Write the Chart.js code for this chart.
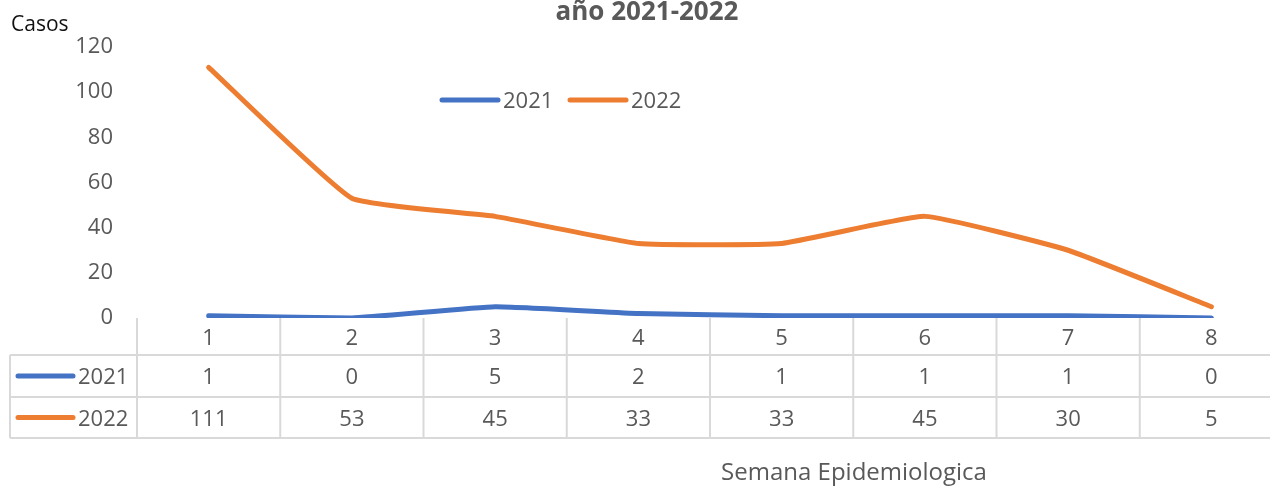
<!DOCTYPE html>
<html>
<head>
<meta charset="utf-8">
<script src="https://cdn.jsdelivr.net/npm/chart.js@4"></script>
<style>
  html, body { margin: 0; padding: 0; background: #fff; overflow: hidden; }
  #wrap { width: 1283px; height: 486px; }
</style>
</head>
<body>
<div id="wrap"><canvas id="chart" width="1283" height="486"></canvas></div>
<script>
// data
const weeks = ['1', '2', '3', '4', '5', '6', '7', '8'];
const cases2021 = [1, 0, 5, 2, 1, 1, 1, 0];
const cases2022 = [111, 53, 45, 33, 33, 45, 30, 5];
const yTicks = [0, 20, 40, 60, 80, 100, 120];

const BLUE = '#4472C4';
const ORANGE = '#ED7D31';
const GRAY = '#595959';
const LINE = '#d9d9d9';
const FONT = '"Open Sans", sans-serif';

// legend, data table and titles drawn on top of the chart
const extras = {
    id: 'extras',
    afterDraw(chart) {
        const ctx = chart.ctx;
        const x = chart.scales.x;
        const area = chart.chartArea;
        const colW = (area.right - area.left) / weeks.length;
        const rowTop = area.bottom;
        const rows = [rowTop, rowTop + 37, rowTop + 79, rowTop + 120];
        const tableLeft = 10;

        ctx.save();

        // table grid
        ctx.strokeStyle = LINE;
        ctx.lineWidth = 2;
        ctx.beginPath();
        for (let i = 0; i <= weeks.length; i++) {
            const gx = area.left + i * colW;
            ctx.moveTo(gx, rows[0]);
            ctx.lineTo(gx, rows[3]);
        }
        ctx.moveTo(tableLeft, rows[1]);
        ctx.lineTo(tableLeft, rows[3]);
        for (let r = 1; r < rows.length; r++) {
            ctx.moveTo(tableLeft, rows[r]);
            ctx.lineTo(area.right, rows[r]);
        }
        ctx.stroke();

        // table text
        ctx.font = '22px ' + FONT;
        ctx.fillStyle = GRAY;
        ctx.textAlign = 'center';
        ctx.textBaseline = 'middle';
        weeks.forEach((w, i) => {
            const cx = x.getPixelForValue(i);
            ctx.fillText(w, cx, (rows[0] + rows[1]) / 2 + 2);
            ctx.fillText(String(cases2021[i]), cx, (rows[1] + rows[2]) / 2 + 2);
            ctx.fillText(String(cases2022[i]), cx, (rows[2] + rows[3]) / 2 + 2);
        });

        // series keys in the table
        const keys = [[BLUE, '2021', (rows[1] + rows[2]) / 2], [ORANGE, '2022', (rows[2] + rows[3]) / 2]];
        ctx.lineCap = 'round';
        ctx.lineWidth = 5;
        keys.forEach(([c, label, cy]) => {
            ctx.strokeStyle = c;
            ctx.beginPath();
            ctx.moveTo(18, cy);
            ctx.lineTo(73, cy);
            ctx.stroke();
            ctx.textAlign = 'left';
            ctx.fillText(label, 78, cy + 2);
        });

        // legend inside the plot
        const legend = [[BLUE, '2021', 442], [ORANGE, '2022', 570]];
        legend.forEach(([c, label, lx]) => {
            ctx.strokeStyle = c;
            ctx.beginPath();
            ctx.moveTo(lx, 100);
            ctx.lineTo(lx + 56, 100);
            ctx.stroke();
            ctx.fillStyle = GRAY;
            ctx.textAlign = 'left';
            ctx.fillText(label, lx + 61, 102);
        });

        // titles
        ctx.fillStyle = GRAY;
        ctx.textAlign = 'center';
        ctx.font = 'bold 26px ' + FONT;
        ctx.fillText('año 2021-2022', 647, 13);

        ctx.font = '24px ' + FONT;
        ctx.fillText('Semana Epidemiologica', 854, 473);

        ctx.fillStyle = '#111';
        ctx.textAlign = 'left';
        ctx.font = '21px ' + FONT;
        ctx.fillText('Casos', 11, 25);

        ctx.restore();
    }
};

new Chart(document.getElementById('chart'), {
    type: 'line',
    data: {
        labels: weeks,
        datasets: [
            {
                label: '2021',
                data: cases2021,
                borderColor: BLUE,
                backgroundColor: BLUE,
                borderWidth: 5,
                borderCapStyle: 'round',
                pointRadius: 0,
                tension: 0.12
            },
            {
                label: '2022',
                data: cases2022,
                borderColor: ORANGE,
                backgroundColor: ORANGE,
                borderWidth: 5,
                borderCapStyle: 'round',
                pointRadius: 0,
                tension: 0.12
            }
        ]
    },
    options: {
        responsive: false,
        animation: false,
        layout: { padding: { top: 47, bottom: 168, left: 0, right: 0 } },
        plugins: {
            legend: { display: false },
            tooltip: { enabled: false }
        },
        scales: {
            x: {
                display: false,
                offset: true
            },
            y: {
                min: 0,
                max: 120,
                afterFit(scale) { scale.width = 137; },
                afterBuildTicks(scale) { scale.ticks = yTicks.map(v => ({ value: v })); },
                grid: { display: false, drawTicks: false },
                border: { display: false },
                ticks: {
                    color: GRAY,
                    padding: 24,
                    font: { family: FONT, size: 22 }
                }
            }
        }
    },
    plugins: [extras]
});
</script>
</body>
</html>
